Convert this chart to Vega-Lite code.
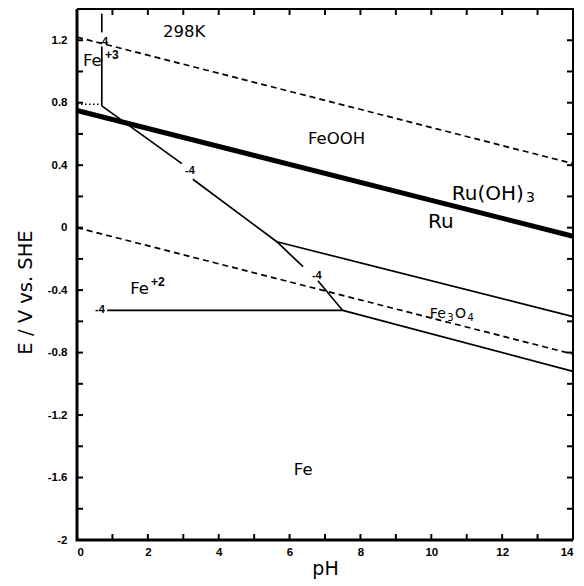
{
  "$schema": "https://vega.github.io/schema/vega-lite/v6.json",
  "width": 496,
  "height": 531,
  "autosize": {"type": "none"},
  "padding": {"left": 77, "top": 9, "right": 11, "bottom": 46},
  "background": "white",
  "config": {
    "view": {"stroke": null},
    "font": "DejaVu Sans",
    "axis": {
      "grid": false,
      "labelColor": "black",
      "titleColor": "black",
      "labelFont": "Liberation Sans",
      "labelFontWeight": "bold",
      "labelFontSize": 11.5,
      "titleFont": "DejaVu Sans",
      "titleFontWeight": "normal",
      "titleFontSize": 19
    }
  },
  "datasets": {
    "lines": [
      {"seg": "O2", "kind": "dashed", "ord": 1, "pH": 0, "E": 1.22},
      {"seg": "O2", "kind": "dashed", "ord": 2, "pH": 14, "E": 0.41},
      {"seg": "H2", "kind": "dashed", "ord": 1, "pH": 0, "E": 0},
      {"seg": "H2", "kind": "dashed", "ord": 2, "pH": 14, "E": -0.81},
      {"seg": "Ru", "kind": "thick", "ord": 1, "pH": 0, "E": 0.75},
      {"seg": "Ru", "kind": "thick", "ord": 2, "pH": 14, "E": -0.055},
      {"seg": "dot", "kind": "dotted", "ord": 1, "pH": 0, "E": 0.79},
      {"seg": "dot", "kind": "dotted", "ord": 2, "pH": 0.65, "E": 0.79},
      {"seg": "v1", "kind": "solid", "ord": 1, "pH": 0.7, "E": 1.37},
      {"seg": "v1", "kind": "solid", "ord": 2, "pH": 0.7, "E": 1.25},
      {"seg": "v2", "kind": "solid", "ord": 1, "pH": 0.7, "E": 1.16},
      {"seg": "v2", "kind": "solid", "ord": 2, "pH": 0.7, "E": 0.78},
      {"seg": "a1", "kind": "solid", "ord": 1, "pH": 0.7, "E": 0.78},
      {"seg": "a1", "kind": "solid", "ord": 2, "pH": 2.96, "E": 0.41},
      {"seg": "a2", "kind": "solid", "ord": 1, "pH": 3.27, "E": 0.31},
      {"seg": "a2", "kind": "solid", "ord": 2, "pH": 5.64, "E": -0.09},
      {"seg": "a2", "kind": "solid", "ord": 3, "pH": 6.38, "E": -0.25},
      {"seg": "a3", "kind": "solid", "ord": 1, "pH": 6.8, "E": -0.34},
      {"seg": "a3", "kind": "solid", "ord": 2, "pH": 7.5, "E": -0.53},
      {"seg": "b", "kind": "solid", "ord": 1, "pH": 5.64, "E": -0.09},
      {"seg": "b", "kind": "solid", "ord": 2, "pH": 14, "E": -0.57},
      {"seg": "c", "kind": "solid", "ord": 1, "pH": 7.5, "E": -0.53},
      {"seg": "c", "kind": "solid", "ord": 2, "pH": 14, "E": -0.92},
      {"seg": "h", "kind": "solid", "ord": 1, "pH": 0.85, "E": -0.53},
      {"seg": "h", "kind": "solid", "ord": 2, "pH": 7.5, "E": -0.53},
      {"seg": "LB", "kind": "frameLB", "ord": 1, "pH": 0, "E": 1.4},
      {"seg": "LB", "kind": "frameLB", "ord": 2, "pH": 0, "E": -2},
      {"seg": "LB", "kind": "frameLB", "ord": 3, "pH": 14, "E": -2},
      {"seg": "TR", "kind": "frameTR", "ord": 1, "pH": 0, "E": 1.4},
      {"seg": "TR", "kind": "frameTR", "ord": 2, "pH": 14, "E": 1.4},
      {"seg": "TR", "kind": "frameTR", "ord": 3, "pH": 14, "E": -2}
    ],
    "ticks": [
      {"side": "x", "v": 1}, {"side": "x", "v": 2}, {"side": "x", "v": 3}, {"side": "x", "v": 4},
      {"side": "x", "v": 5}, {"side": "x", "v": 6}, {"side": "x", "v": 7}, {"side": "x", "v": 8},
      {"side": "x", "v": 9}, {"side": "x", "v": 10}, {"side": "x", "v": 11}, {"side": "x", "v": 12},
      {"side": "x", "v": 13},
      {"side": "y", "v": -1.8}, {"side": "y", "v": -1.6}, {"side": "y", "v": -1.4}, {"side": "y", "v": -1.2},
      {"side": "y", "v": -1.0}, {"side": "y", "v": -0.8}, {"side": "y", "v": -0.6}, {"side": "y", "v": -0.4},
      {"side": "y", "v": -0.2}, {"side": "y", "v": 0}, {"side": "y", "v": 0.2}, {"side": "y", "v": 0.4},
      {"side": "y", "v": 0.6}, {"side": "y", "v": 0.8}, {"side": "y", "v": 1.0}, {"side": "y", "v": 1.2}
    ],
    "labels": [
      {"kind": "mid", "label": "298K", "pH": 2.43, "E": 1.25},
      {"kind": "mid", "label": "FeOOH", "pH": 6.52, "E": 0.57},
      {"kind": "mid", "label": "Fe", "pH": 0.17, "E": 1.066},
      {"kind": "mid", "label": "Fe", "pH": 1.5, "E": -0.39},
      {"kind": "mid", "label": "Fe", "pH": 6.12, "E": -1.55},
      {"kind": "big", "label": "Ru(OH)", "pH": 10.58, "E": 0.215},
      {"kind": "big", "label": "Ru", "pH": 9.91, "E": 0.035},
      {"kind": "bigsub", "label": "3", "pH": 12.67, "E": 0.19},
      {"kind": "small", "label": "Fe", "pH": 9.96, "E": -0.55},
      {"kind": "small", "label": "O", "pH": 10.67, "E": -0.55},
      {"kind": "sup", "label": "+3", "pH": 0.79, "E": 1.105},
      {"kind": "sup", "label": "+2", "pH": 2.09, "E": -0.35},
      {"kind": "sub", "label": "3", "pH": 10.45, "E": -0.58},
      {"kind": "sub", "label": "4", "pH": 11.02, "E": -0.58},
      {"kind": "num", "label": "-4", "pH": 0.6, "E": 1.19},
      {"kind": "num", "label": "-4", "pH": 3.05, "E": 0.36},
      {"kind": "num", "label": "-4", "pH": 6.63, "E": -0.31},
      {"kind": "num", "label": "-4", "pH": 0.51, "E": -0.53}
    ]
  },
  "layer": [
    {
      "data": {"name": "lines"},
      "transform": [{"filter": "datum.kind == 'dashed'"}],
      "mark": {"type": "line", "color": "black", "strokeWidth": 1.7, "strokeDash": [6, 4]},
      "encoding": {
        "x": {"field": "pH", "type": "quantitative", "scale": {"domain": [0, 14], "nice": false},
          "axis": {"orient": "bottom", "values": [0,2,4,6,8,10,12,14],
            "domain": false, "ticks": false,
            "labelPadding": 6, "title": "pH", "titlePadding": 2}},
        "y": {"field": "E", "type": "quantitative", "scale": {"domain": [-2, 1.4], "nice": false, "zero": false},
          "axis": {"orient": "left", "values": [-2,-1.6,-1.2,-0.8,-0.4,0,0.4,0.8,1.2],
            "labelExpr": "toString(round(datum.value*10)/10)",
            "domain": false, "ticks": false,
            "labelPadding": 10, "title": "E / V vs. SHE", "titleFontSize": 19.5,
            "titleX": -52, "titleY": 283, "titleAngle": -90, "titleBaseline": "middle", "titleAlign": "center"}},
        "detail": {"field": "seg"},
        "order": {"field": "ord"}
      }
    },
    {
      "data": {"name": "lines"},
      "transform": [{"filter": "datum.kind == 'solid'"}],
      "mark": {"type": "line", "color": "black", "strokeWidth": 1.7},
      "encoding": {
        "x": {"field": "pH", "type": "quantitative"},
        "y": {"field": "E", "type": "quantitative"},
        "detail": {"field": "seg"},
        "order": {"field": "ord"}
      }
    },
    {
      "data": {"name": "lines"},
      "transform": [{"filter": "datum.kind == 'frameLB'"}],
      "mark": {"type": "line", "color": "black", "strokeWidth": 3},
      "encoding": {
        "x": {"field": "pH", "type": "quantitative"},
        "y": {"field": "E", "type": "quantitative"},
        "detail": {"field": "seg"},
        "order": {"field": "ord"}
      }
    },
    {
      "data": {"name": "lines"},
      "transform": [{"filter": "datum.kind == 'frameTR'"}],
      "mark": {"type": "line", "color": "black", "strokeWidth": 2},
      "encoding": {
        "x": {"field": "pH", "type": "quantitative"},
        "y": {"field": "E", "type": "quantitative"},
        "detail": {"field": "seg"},
        "order": {"field": "ord"}
      }
    },
    {
      "data": {"name": "ticks"},
      "transform": [{"filter": "datum.side == 'x'"}],
      "mark": {"type": "rule", "color": "black", "strokeWidth": 2},
      "encoding": {
        "x": {"field": "v", "type": "quantitative"},
        "y": {"datum": -2, "type": "quantitative"},
        "y2": {"datum": -1.962}
      }
    },
    {
      "data": {"name": "ticks"},
      "transform": [{"filter": "datum.side == 'x'"}],
      "mark": {"type": "rule", "color": "black", "strokeWidth": 2},
      "encoding": {
        "x": {"field": "v", "type": "quantitative"},
        "y": {"datum": 1.4, "type": "quantitative"},
        "y2": {"datum": 1.362}
      }
    },
    {
      "data": {"name": "ticks"},
      "transform": [{"filter": "datum.side == 'y'"}],
      "mark": {"type": "rule", "color": "black", "strokeWidth": 2},
      "encoding": {
        "y": {"field": "v", "type": "quantitative"},
        "x": {"datum": 0, "type": "quantitative"},
        "x2": {"datum": 0.17}
      }
    },
    {
      "data": {"name": "ticks"},
      "transform": [{"filter": "datum.side == 'y'"}],
      "mark": {"type": "rule", "color": "black", "strokeWidth": 2},
      "encoding": {
        "y": {"field": "v", "type": "quantitative"},
        "x": {"datum": 14, "type": "quantitative"},
        "x2": {"datum": 13.83}
      }
    },
    {
      "data": {"name": "lines"},
      "transform": [{"filter": "datum.kind == 'thick'"}],
      "mark": {"type": "line", "color": "black", "strokeWidth": 5},
      "encoding": {
        "x": {"field": "pH", "type": "quantitative"},
        "y": {"field": "E", "type": "quantitative"},
        "detail": {"field": "seg"},
        "order": {"field": "ord"}
      }
    },
    {
      "data": {"name": "lines"},
      "transform": [{"filter": "datum.kind == 'dotted'"}],
      "mark": {"type": "line", "color": "black", "strokeWidth": 1.7, "strokeDash": [1.5, 2.5]},
      "encoding": {
        "x": {"field": "pH", "type": "quantitative"},
        "y": {"field": "E", "type": "quantitative"},
        "detail": {"field": "seg"},
        "order": {"field": "ord"}
      }
    },
    {
      "data": {"name": "labels"},
      "transform": [{"filter": "datum.kind == 'mid'"}],
      "mark": {"type": "text", "align": "left", "baseline": "middle", "font": "DejaVu Sans", "fontSize": 16.5, "color": "black"},
      "encoding": {
        "x": {"field": "pH", "type": "quantitative"},
        "y": {"field": "E", "type": "quantitative"},
        "text": {"field": "label"}
      }
    },
    {
      "data": {"name": "labels"},
      "transform": [{"filter": "datum.kind == 'big'"}],
      "mark": {"type": "text", "align": "left", "baseline": "middle", "font": "DejaVu Sans", "fontSize": 20, "color": "black"},
      "encoding": {
        "x": {"field": "pH", "type": "quantitative"},
        "y": {"field": "E", "type": "quantitative"},
        "text": {"field": "label"}
      }
    },
    {
      "data": {"name": "labels"},
      "transform": [{"filter": "datum.kind == 'bigsub'"}],
      "mark": {"type": "text", "align": "left", "baseline": "middle", "font": "DejaVu Sans", "fontSize": 14, "color": "black"},
      "encoding": {
        "x": {"field": "pH", "type": "quantitative"},
        "y": {"field": "E", "type": "quantitative"},
        "text": {"field": "label"}
      }
    },
    {
      "data": {"name": "labels"},
      "transform": [{"filter": "datum.kind == 'small'"}],
      "mark": {"type": "text", "align": "left", "baseline": "middle", "font": "DejaVu Sans", "fontSize": 14, "color": "black"},
      "encoding": {
        "x": {"field": "pH", "type": "quantitative"},
        "y": {"field": "E", "type": "quantitative"},
        "text": {"field": "label"}
      }
    },
    {
      "data": {"name": "labels"},
      "transform": [{"filter": "datum.kind == 'sub'"}],
      "mark": {"type": "text", "align": "left", "baseline": "middle", "font": "DejaVu Sans", "fontSize": 10, "color": "black"},
      "encoding": {
        "x": {"field": "pH", "type": "quantitative"},
        "y": {"field": "E", "type": "quantitative"},
        "text": {"field": "label"}
      }
    },
    {
      "data": {"name": "labels"},
      "transform": [{"filter": "datum.kind == 'sup'"}],
      "mark": {"type": "text", "align": "left", "baseline": "middle", "font": "Liberation Sans", "fontSize": 12, "fontWeight": "bold", "color": "black"},
      "encoding": {
        "x": {"field": "pH", "type": "quantitative"},
        "y": {"field": "E", "type": "quantitative"},
        "text": {"field": "label"}
      }
    },
    {
      "data": {"name": "labels"},
      "transform": [{"filter": "datum.kind == 'num'"}],
      "mark": {"type": "text", "align": "left", "baseline": "middle", "font": "Liberation Sans", "fontSize": 11, "fontWeight": "bold", "color": "black"},
      "encoding": {
        "x": {"field": "pH", "type": "quantitative"},
        "y": {"field": "E", "type": "quantitative"},
        "text": {"field": "label"}
      }
    }
  ]
}
